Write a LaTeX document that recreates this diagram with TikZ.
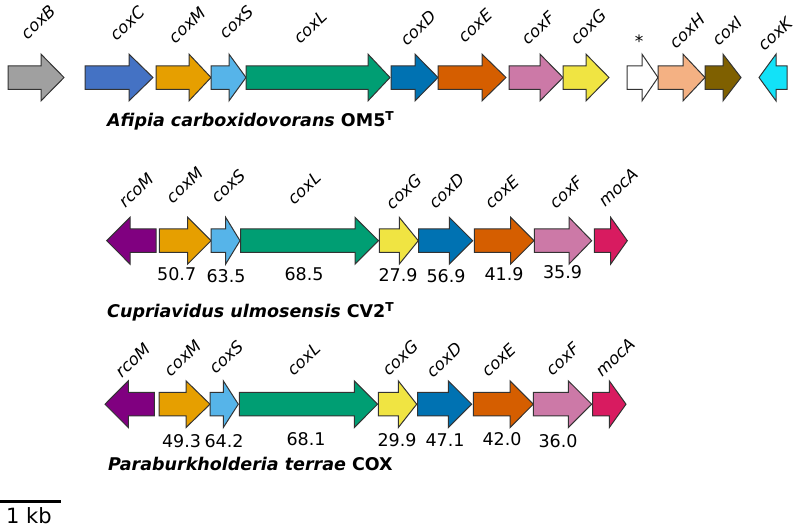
\documentclass[tikz,border=0pt]{standalone}
\usepackage{fontspec}
\setmainfont{DejaVu Sans}
\definecolor{cgray}{HTML}{A0A0A0}
\definecolor{cblue}{HTML}{4472C4}
\definecolor{corange}{HTML}{E69F00}
\definecolor{cskyblue}{HTML}{56B4E9}
\definecolor{cgreen}{HTML}{009E73}
\definecolor{cdblue}{HTML}{0072B2}
\definecolor{cverm}{HTML}{D55E00}
\definecolor{cpink}{HTML}{CC79A7}
\definecolor{cyellow}{HTML}{F0E442}
\definecolor{csalmon}{HTML}{F4B183}
\definecolor{cbrown}{HTML}{7F6000}
\definecolor{ccyan}{HTML}{12E2F8}
\definecolor{cpurple}{HTML}{800080}
\definecolor{cmagenta}{HTML}{D81B60}
\newcommand{\gR}[5]{\draw[gene,fill=#5] (#1,#4-11.75) -- (#2,#4-11.75) -- (#2,#4-23.35) -- (#3,#4) -- (#2,#4+23.35) -- (#2,#4+11.75) -- (#1,#4+11.75) -- cycle;}
\newcommand{\gL}[5]{\draw[gene,fill=#5] (#3,#4-11.75) -- (#2,#4-11.75) -- (#2,#4-23.35) -- (#1,#4) -- (#2,#4+23.35) -- (#2,#4+11.75) -- (#3,#4+11.75) -- cycle;}
\begin{document}
\begin{tikzpicture}[x=1pt,y=-1pt,
  gene/.style={draw=black!80,line width=1pt,line join=miter},
  glabel/.style={rotate=43,inner sep=0pt,font=\fontsize{16.5}{19}\selectfont\itshape},
  num/.style={inner sep=0pt,font=\fontsize{17.5}{20}\selectfont},
  species/.style={inner sep=0pt,anchor=base west,font=\fontsize{17.5}{20}\selectfont\bfseries}]
\useasboundingbox (0,0) rectangle (797,528);
% ---------- Row 1 ----------
\gR{8}{41}{64}{77.5}{cgray}
\gR{85}{129}{153}{77.5}{cblue}
\gR{156}{189}{211}{77.5}{corange}
\gR{211}{229}{246}{77.5}{cskyblue}
\gR{246}{368}{390}{77.5}{cgreen}
\gR{391}{415}{438}{77.5}{cdblue}
\gR{438}{482}{506}{77.5}{cverm}
\gR{509}{540}{563}{77.5}{cpink}
\gR{563}{586}{609}{77.5}{cyellow}
\gR{627}{642}{658}{77.5}{white}
\gR{658}{683}{705}{77.5}{csalmon}
\gR{705}{723}{741}{77.5}{cbrown}
\gL{759}{776}{787}{77.5}{ccyan}
\node[glabel] (a1) at (38,22) {coxB};
\node[glabel] (a2) at (127,23) {coxC};
\node[glabel] (a3) at (187,25) {coxM};
\node[glabel] (a4) at (236,22) {coxS};
\node[glabel] (a5) at (310,27) {coxL};
\node[glabel] (a6) at (418,28) {coxD};
\node[glabel] (a7) at (475,26) {coxE};
\node[glabel] (a8) at (538,28) {coxF};
\node[glabel] (a9) at (588,27) {coxG};
\node[inner sep=0pt,font=\fontsize{17}{20}\selectfont] (a10) at (639,41) {*};
\node[glabel] (a11) at (687,31) {coxH};
\node[glabel] (a12) at (727,31) {coxI};
\node[glabel] (a13) at (775,34) {coxK};
\node[species] (sp1) at (107,126.5) {\itshape Afipia carboxidovorans\upshape\ OM5\textsuperscript{T}};
% ---------- Row 2 ----------
\gL{106.7}{130}{156}{240.7}{cpurple}
\gR{159.3}{187.7}{211}{240.7}{corange}
\gR{211}{225.7}{240}{240.7}{cskyblue}
\gR{240.7}{355}{378.5}{240.7}{cgreen}
\gR{379.3}{399.3}{418.3}{240.7}{cyellow}
\gR{418.7}{449.3}{472.7}{240.7}{cdblue}
\gR{474.3}{510.7}{534}{240.7}{cverm}
\gR{534.3}{569}{591.7}{240.7}{cpink}
\gR{594.3}{610.7}{627.3}{240.7}{cmagenta}
\node[glabel] (b1) at (136,190) {rcoM};
\node[glabel] (b2) at (184.5,185) {coxM};
\node[glabel] (b3) at (228,186) {coxS};
\node[glabel] (b4) at (304,188) {coxL};
\node[glabel] (b5) at (403.5,191.5) {coxG};
\node[glabel] (b6) at (446.5,191) {coxD};
\node[glabel] (b7) at (501.7,192) {coxE};
\node[glabel] (b8) at (566,192.5) {coxF};
\node[glabel] (b9) at (618,187) {mocA};
\node[num] (n1) at (176.7,274.5) {50.7};
\node[num] (n2) at (226,276) {63.5};
\node[num] (n3) at (304,274) {68.5};
\node[num] (n4) at (398,275) {27.9};
\node[num] (n5) at (446,276) {56.9};
\node[num] (n6) at (504,274) {41.9};
\node[num] (n7) at (562.5,272.5) {35.9};
\node[species] (sp2) at (107,317.5) {\itshape Cupriavidus ulmosensis\upshape\ CV2\textsuperscript{T}};
% ---------- Row 3 ----------
\gL{105}{128.3}{154.3}{404.2}{cpurple}
\gR{159}{186}{210}{404.2}{corange}
\gR{210}{223.3}{238.3}{404.2}{cskyblue}
\gR{239.3}{354.3}{377.5}{404.2}{cgreen}
\gR{378.3}{398.3}{416.7}{404.2}{cyellow}
\gR{417.7}{448.3}{471.7}{404.2}{cdblue}
\gR{473.3}{510}{533.3}{404.2}{cverm}
\gR{533.3}{568.3}{591.7}{404.2}{cpink}
\gR{592.7}{609.3}{626}{404.2}{cmagenta}
\node[glabel] (c1) at (132.5,360) {rcoM};
\node[glabel] (c2) at (182.5,358) {coxM};
\node[glabel] (c3) at (226,357) {coxS};
\node[glabel] (c4) at (303.5,359) {coxL};
\node[glabel] (c5) at (400,358) {coxG};
\node[glabel] (c6) at (444,360) {coxD};
\node[glabel] (c7) at (498.5,360) {coxE};
\node[glabel] (c8) at (562.5,359) {coxF};
\node[glabel] (c9) at (615,357) {mocA};
\node[num] (m1) at (181.5,441) {49.3};
\node[num] (m2) at (224,441) {64.2};
\node[num] (m3) at (306,439.5) {68.1};
\node[num] (m4) at (397,440) {29.9};
\node[num] (m5) at (445,440) {47.1};
\node[num] (m6) at (502,439) {42.0};
\node[num] (m7) at (558,441) {36.0};
\node[species] (sp3) at (108,470.5) {\itshape Paraburkholderia terrae\upshape\ COX};
% ---------- Scale bar ----------
\coordinate (sb1) at (0,501);
\coordinate (sb2) at (60.7,501);
\draw[line width=3pt] (sb1) -- (sb2);
\node[inner sep=0pt,anchor=base west,font=\fontsize{21}{25}\selectfont] (kb) at (6,523.5) {1 kb};
\end{tikzpicture}
\end{document}
